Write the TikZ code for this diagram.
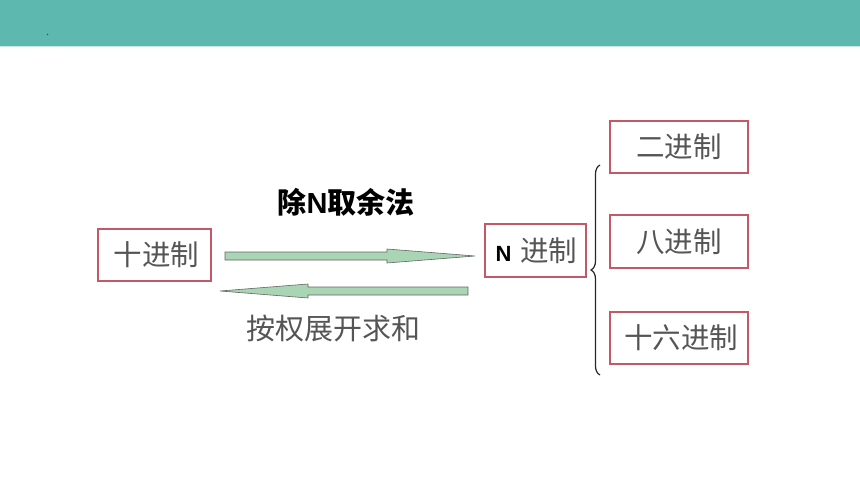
\documentclass[tikz,border=0pt]{standalone}
\usepackage{fontspec}
\setmainfont{Noto Sans CJK SC}
\newfontfamily\cjkf{Noto Sans CJK SC}
\newfontfamily\latf{Liberation Sans}
\usetikzlibrary{decorations.pathreplacing,calc}
\definecolor{teal}{RGB}{93,184,176}
\definecolor{tealline}{RGB}{200,230,227}
\definecolor{boxred}{RGB}{197,88,102}
\definecolor{txtgray}{RGB}{85,85,85}
\definecolor{arrgreen}{RGB}{169,213,181}
\definecolor{arredge}{RGB}{100,100,100}
\tikzset{
  numbox/.style={draw=boxred, line width=1.3pt, inner sep=0pt, text=txtgray, font=\cjkf\fontsize{28.5}{30}\selectfont},
  fatarrow/.style={fill=arrgreen, draw=arredge, line width=0.6pt},
}
\begin{document}
\begin{tikzpicture}[x=1pt,y=-1pt]
\useasboundingbox (0,0) rectangle (860,484);
\fill[teal] (0,0) rectangle (860,46);
\fill[tealline] (0,46) rectangle (860,47.5);
\fill[txtgray] (47.5,34.5) circle (0.9);

\node[numbox, minimum width=113pt, minimum height=52pt] (dec) at (154.5,255) {\hspace{4pt}十进制};
\node[numbox, minimum width=101pt, minimum height=53pt] (nb) at (535.5,250.5) {\hspace{2pt}{\latf\bfseries\color{black}\fontsize{22}{24}\selectfont N}\hspace{9pt}进制};
\node[numbox, minimum width=138pt, minimum height=52pt] (bin) at (679,147) {二进制};
\node[numbox, minimum width=138pt, minimum height=53pt] (oct) at (679,241.5) {八进制};
\node[numbox, minimum width=138pt, minimum height=52pt] (hex) at (679,338) {\hspace{4pt}十六进制};

\coordinate (r0) at (225,256);
\coordinate (r1) at (475,256);
\coordinate (l0) at (468,291);
\coordinate (l1) at (220,291);
\draw[fatarrow] ($(r0)+(0,-4)$) -- ++(162,0) -- ++(0,-3) -- (r1) -- ++(-88,7) -- ++(0,-3) -- ($(r0)+(0,4)$) -- cycle;
\draw[fatarrow] ($(l0)+(0,-4)$) -- ++(-160,0) -- ++(0,-3) -- (l1) -- ++(88,7) -- ++(0,-3) -- ($(l0)+(0,4)$) -- cycle;

\node[font=\cjkf\bfseries\fontsize{29}{31}\selectfont, text=black] (div) at (346,202) {除{\latf N}取余法};
\node[font=\cjkf\fontsize{29}{31}\selectfont, text=txtgray] (sum) at (333,328) {按权展开求和};

\coordinate (bt) at (600,375);
\coordinate (tp) at (600,165);
\draw[decorate, decoration={brace, amplitude=9pt}, line width=1.2pt, draw=black!85] (bt) -- (tp);
\end{tikzpicture}
\end{document}
